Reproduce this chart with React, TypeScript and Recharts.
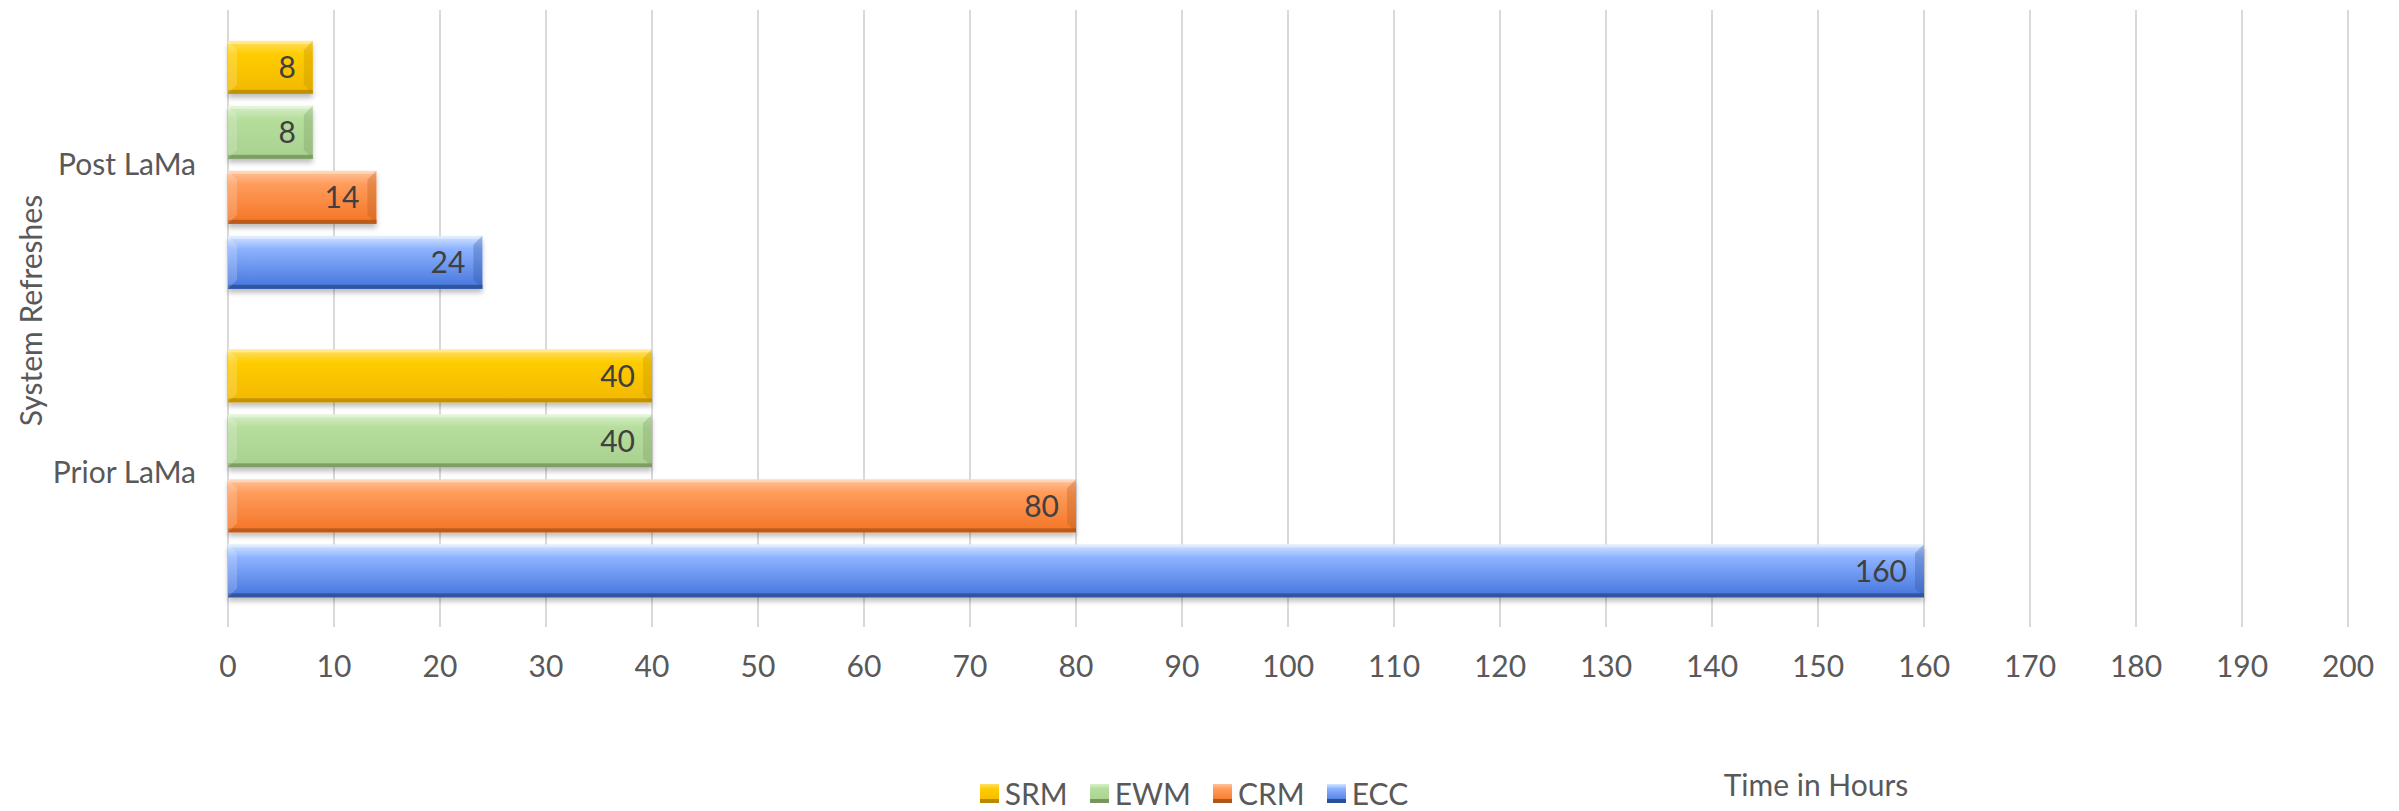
import React from "react";
import { Bar, BarChart, CartesianGrid, LabelList, Legend, XAxis, YAxis } from "recharts";

const categories = ["Post LaMa", "Prior LaMa"];
const srmHours = [8, 40];
const ewmHours = [8, 40];
const crmHours = [14, 80];
const eccHours = [24, 160];
const hourTicks = [0, 10, 20, 30, 40, 50, 60, 70, 80, 90, 100, 110, 120, 130, 140, 150, 160, 170, 180, 190, 200];

const data = categories.map((category, i) => ({
  category,
  SRM: srmHours[i],
  EWM: ewmHours[i],
  CRM: crmHours[i],
  ECC: eccHours[i],
}));

// top -> bottom inside a group, same as the legend order
const series = [
  { key: "SRM", top: "#ffe066", mid: "#ffcc00", bottom: "#f2b800", edge: "#b88a00" },
  { key: "EWM", top: "#d8f0c8", mid: "#b5dd9c", bottom: "#a8d08e", edge: "#78955f" },
  { key: "CRM", top: "#ffc49c", mid: "#ff9c5c", bottom: "#f47424", edge: "#b0561a" },
  { key: "ECC", top: "#d4e6ff", mid: "#8cb2ff", bottom: "#4474dc", edge: "#2c5096" },
];

const FONT = "Lato, 'Open Sans', sans-serif";
const TEXT = "#595959";
const FS = 30;

function BevelBar(props: any) {
  const { x, y, width, height, seriesKey, edge } = props;
  if (!width || width <= 0) return null;
  const b = Math.min(9, width / 4);
  return (
    <g>
      <rect x={x} y={y} width={width} height={height} fill={`url(#grad-${seriesKey})`} filter="url(#barShadow)" />
      <rect x={x} y={y} width={width} height={3} fill="#ffffff" opacity={0.35} />
      <rect x={x} y={y + height - 4} width={width} height={4} fill={edge} opacity={0.85} />
      <polygon
        points={`${x + width - b},${y + b} ${x + width},${y} ${x + width},${y + height} ${x + width - b},${y + height - b}`}
        fill={edge}
        opacity={0.3}
      />
      <polygon
        points={`${x},${y} ${x + b},${y + b} ${x + b},${y + height - b} ${x},${y + height}`}
        fill="#ffffff"
        opacity={0.18}
      />
    </g>
  );
}

function LegendBox() {
  return (
    <div
      style={{
        display: "flex",
        justifyContent: "center",
        alignItems: "center",
        height: 30,
        paddingLeft: 62,
        fontFamily: FONT,
        fontSize: FS,
        color: TEXT,
      }}
    >
      {series.map((s) => (
        <div key={s.key} style={{ display: "flex", alignItems: "center", marginRight: 22 }}>
          <svg width={19} height={19} style={{ marginRight: 6 }}>
            <rect x={0} y={0} width={19} height={19} fill={`url(#grad-${s.key})`} />
            <rect x={0} y={15} width={19} height={4} fill={s.edge} />
          </svg>
          <span>{s.key}</span>
        </div>
      ))}
    </div>
  );
}

export default function App() {
  return (
    <div style={{ position: "absolute", left: 0, top: 0, background: "#fff" }}>
      <BarChart
        width={2399}
        height={811}
        data={data}
        layout="vertical"
        margin={{ top: 10, right: 51, left: 0, bottom: 3 }}
        barCategoryGap="10%"
        barGap={12}
      >
        <defs>
          {series.map((s) => (
            <linearGradient key={s.key} id={`grad-${s.key}`} x1="0" y1="0" x2="0" y2="1">
              <stop offset="0%" stopColor={s.top} />
              <stop offset="25%" stopColor={s.mid} />
              <stop offset="100%" stopColor={s.bottom} />
            </linearGradient>
          ))}
          <filter id="barShadow" x="-5%" y="-20%" width="110%" height="160%">
            <feDropShadow dx="0" dy="4" stdDeviation="2.5" floodColor="#000" floodOpacity="0.25" />
          </filter>
        </defs>
        <CartesianGrid horizontal={false} stroke="#d9d9d9" strokeWidth={2} />
        <XAxis
          type="number"
          domain={[0, 200]}
          ticks={hourTicks}
          axisLine={false}
          tickLine={false}
          tickSize={0}
          tickMargin={29}
          height={151}
          tick={{ fontSize: FS, fill: TEXT, fontFamily: FONT }}
          label={{
            content: (p: any) => {
              const vb = p.viewBox;
              return (
                <text
                  x={vb.x + 1588}
                  y={vb.y + 157}
                  textAnchor="middle"
                  dominantBaseline="central"
                  fontSize={FS}
                  fill={TEXT}
                  fontFamily={FONT}
                >
                  Time in Hours
                </text>
              );
            },
          }}
        />
        <YAxis
          type="category"
          dataKey="category"
          width={228}
          axisLine={false}
          tickLine={false}
          tickSize={0}
          tickMargin={32}
          tick={{ fontSize: FS, fill: TEXT, fontFamily: FONT }}
          label={{
            content: (p: any) => {
              const vb = p.viewBox;
              const cy = vb.y + vb.height / 2 - 8;
              return (
                <text
                  x={30}
                  y={cy}
                  transform={`rotate(-90, 30, ${cy})`}
                  textAnchor="middle"
                  dominantBaseline="central"
                  fontSize={FS}
                  fill={TEXT}
                  fontFamily={FONT}
                >
                  System Refreshes
                </text>
              );
            },
          }}
        />
        <Legend verticalAlign="bottom" content={() => <LegendBox />} />
        {series.map((s) => (
          <Bar
            key={s.key}
            dataKey={s.key}
            fill={s.mid}
            isAnimationActive={false}
            shape={(p: any) => <BevelBar {...p} seriesKey={s.key} edge={s.edge} />}
          >
            <LabelList
              dataKey={s.key}
              position="insideRight"
              offset={17}
              fill="#404040"
              fontSize={FS}
              fontFamily={FONT}
            />
          </Bar>
        ))}
      </BarChart>
    </div>
  );
}
